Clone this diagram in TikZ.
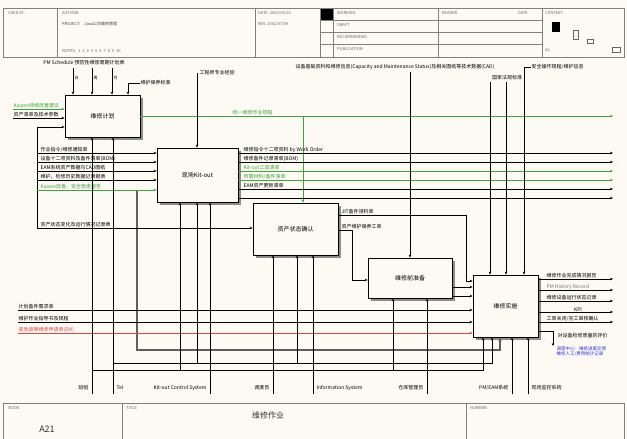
\documentclass[tikz,border=0pt]{standalone}
\usepackage{fontspec}
\newfontfamily\cjk{Noto Sans CJK SC}
\usetikzlibrary{arrows.meta}
\definecolor{paper}{RGB}{252,250,243}
\definecolor{idefgreen}{RGB}{60,165,60}
\definecolor{idefred}{RGB}{225,70,70}
\definecolor{idefblue}{RGB}{45,45,235}
\definecolor{fbgray}{RGB}{95,95,95}
\tikzset{
	func/.style={
		draw, thick, fill=paper, inner sep=0pt,
		font=\cjk\fontsize{6}{7}\selectfont
	},
	shade box/.style={fill=black!45, draw=none},
	lbl/.style={inner sep=0.4pt, font=\cjk\fontsize{5}{6}\selectfont},
	hd/.style={inner sep=0pt, anchor=north west, text=black!60,
		font=\cjk\fontsize{4}{5}\selectfont},
	arw/.style={-{Stealth[length=3pt,width=2.6pt]}, line width=0.5pt},
	frm/.style={draw=black!50, line width=0.8pt},
	grn/.style={draw=idefgreen},
	feedback/.style={-{Stealth[length=4pt,width=3.5pt]}, line width=1.5pt, draw=fbgray}
}
\begin{document}
\begin{tikzpicture}[x=1pt,y=-1pt]
\useasboundingbox (0,0) rectangle (627,439);
\fill[paper] (0,0) rectangle (627,439);
% title block
\draw[frm] (3,8) rectangle (624,57);
\draw[frm] (57,8) -- (57,57) (255,8) -- (255,57) (320,8) -- (320,57)
	(333,8) -- (333,57) (438,8) -- (438,57) (542,8) -- (542,57);
\draw[frm] (320,20) -- (542,20) (320,32) -- (542,32) (320,44) -- (542,44);
\fill (321,9) rectangle (333,20);
\node[hd] (usedat) at (8,11) {USED AT:};
\node[hd] (author) at (62,11) {AUTHOR:};
\node[hd, text=black!75] (project) at (62,22) {PROJECT:\quad Java公司维修管理};
\node[hd] (notes) at (62,49) {NOTES:\; 1\; 2\; 3\; 4\; 5\; 6\; 7\; 8\; 9\; 10};
\node[hd] (date) at (258,11) {DATE: 2002/05/20};
\node[hd] (rev) at (258,22) {REV: 2002/07/09};
\node[hd] (working) at (337,11) {WORKING};
\node[hd] (draft) at (337,23) {DRAFT};
\node[hd] (recom) at (337,35) {RECOMMENDED};
\node[hd] (publ) at (337,47) {PUBLICATION};
\node[hd] (reader) at (442,11) {READER};
\node[hd] (rdate) at (518,11) {DATE};
\node[hd] (context) at (545,11) {CONTEXT:};
\fill (552,22) rectangle (560,32);
\draw[black!60] (573,30) rectangle (578,39) (587,39) rectangle (593,43) (612,47) rectangle (620,52);
\node[hd] (ctxnode) at (545,48) {A2};
% footer
\draw[frm] (3,403) rectangle (624,439);
\draw[frm] (122,403) -- (122,439) (466,403) -- (466,439);
\node[hd] (nodelbl) at (8,406) {NODE:};
\node[font=\cjk\fontsize{9}{10}\selectfont, text=black!80] (nodeno) at (47,429) {A21};
\node[hd] (titlelbl) at (126,406) {TITLE:};
\node[font=\cjk\fontsize{8}{9}\selectfont, text=black!80] (title) at (268,415) {维修作业};
\node[hd] (numlbl) at (470,406) {NUMBER:};

% activity shadows, then activities
\fill[shade box] (68,98) rectangle (143,140);
\fill[shade box] (160,151) rectangle (241,205);
\fill[shade box] (256,206) rectangle (341,258);
\fill[shade box] (371,261) rectangle (455,301);
\fill[shade box] (476,278) rectangle (541,340);
\node[func, minimum width=75pt, minimum height=42pt] (A1) at (102.5,116) {维修计划};
\node[func, minimum width=81pt, minimum height=54pt] (A2) at (197.5,175) {现场Kit-out};
\node[func, minimum width=85pt, minimum height=52pt] (A3) at (295.5,229) {资产状态确认};
\node[func, minimum width=84pt, minimum height=40pt] (A4) at (410,278) {维修前准备};
\node[func, minimum width=65pt, minimum height=62pt] (A5) at (505.5,306) {维修实施};

% feedback
\coordinate (fb0) at (137,190);
\coordinate (fb1) at (137,350);
\coordinate (fb2) at (500,350);
\draw[feedback] (fb0) -- (fb1) -- (fb2) -- (fb2 |- A5.south);

% A1 controls
\node[lbl, anchor=south] (pmsched) at (84,66) {PM Schedule 预防性维修周期计划表};
\foreach \x/\lab in {73/日,92/周,112/月}{
	\coordinate (ctl) at (\x,68);
	\draw[arw] (ctl) -- (ctl |- A1.north);
	\node[lbl, anchor=west, font=\cjk\fontsize{4}{5}\selectfont] (per\x) at (\x+1,78) {\lab};
}
\node[lbl, anchor=west] (mstd) at (140,83) {维护保养标准};
\coordinate (ctl4) at (128,83);
\draw[arw] (mstd.west) -- (ctl4) -- (ctl4 |- A1.north);

% A1 inputs
\node[lbl, anchor=south west, text=idefgreen] (kaizen) at (13,109) {Kaizen持续改善建议};
\node[lbl, anchor=south west] (assetlist) at (13,118) {资产清单及技术参数};
\draw[arw, grn] (kaizen.south west) -- (kaizen.south west -| A1.west);
\draw[arw] (assetlist.south west) -- (assetlist.south west -| A1.west);
\coordinate (fbtop) at (37,127);
\coordinate (fbbot) at (37,228);
\draw[arw] (fbbot) -- (fbtop) -- (fbtop -| A1.west);

% A2 inputs
\node[lbl, anchor=south west] (wo) at (40,153) {作业指令/维修通知单};
\node[lbl, anchor=south west] (bom) at (40,162) {设备十二项资料及备件清单(BOM)};
\node[lbl, anchor=south west] (cad) at (40,171) {EAM系统资产数据与CAD图纸};
\node[lbl, anchor=south west] (hist) at (40,180) {维护、检修历史数据记录报表};
\node[lbl, anchor=south west, text=idefgreen] (hazard) at (40,190) {Kaizen改善、安全隐患报告};
\foreach \n in {wo,bom,cad,hist}
	\draw[arw] ([xshift=-3pt]\n.south west) -- (\n.south west -| A2.west);
\draw[arw, grn] ([xshift=-3pt]hazard.south west) -- (hazard.south west -| A2.west);

% A3 input
\node[lbl, anchor=south west] (astate) at (40,228) {资产状态变化及运行情况记录表};
\draw[arw] (fbbot) -- (fbbot -| A3.west);

% A1 output
\node[lbl, anchor=south west, text=idefgreen] (rule) at (232,116) {统一维修作业规程};
\coordinate (o0) at (613,116);
\draw[arw, grn] (A1.east |- o0) -- (o0);
\coordinate (g0) at (303,116);
\draw[arw, grn] (g0) -- (g0 |- A3.north);

% A2 control
\node[lbl, anchor=west] (exp) at (199,73) {工程师专业经验};
\coordinate (c2) at (197,73);
\draw[arw] (c2) -- (c2 |- A2.north);

% A2 outputs
\node[lbl, anchor=south west] (wo2) at (243,153) {维修指令十二项资料 by Work Order};
\node[lbl, anchor=south west] (rec) at (243,162) {维修备件记录清单(BOM)};
\node[lbl, anchor=south west, text=idefgreen] (kit) at (243,171) {Kit-out工具清单};
\node[lbl, anchor=south west, text=idefgreen] (mat) at (243,180) {所需材料/备件清单};
\node[lbl, anchor=south west] (eam) at (243,189) {EAM资产更新清单};
\foreach \y/\s in {153/black,162/black,171/idefgreen,180/idefgreen,189/black,198/black}{
	\coordinate (out) at (613,\y);
	\draw[arw, draw=\s] (A2.east |- out) -- (out);
}

% A3 outputs
\node[lbl, anchor=south west] (jit) at (341,215) {JIT备件领料单};
\node[lbl, anchor=south west] (pmwo) at (341,230) {资产维护保养工单};
\coordinate (j1) at (466,215);
\coordinate (j2) at (466,281);
\draw[arw] (A3.east |- j1) -- (j1) -- (j2) -- (j2 -| A5.west);
\coordinate (p1) at (352,230);
\coordinate (p2) at (352,280);
\draw[arw] (A3.east |- p1) -- (p1) -- (p2) -- (p2 -| A4.west);

% A4 control
\node[lbl] (basedata) at (395,67) {设备基础资料和维修信息(Capacity and Maintenance Status)及相关图纸等技术数据(CAD)};
\coordinate (c4a) at (410,72);
\draw[arw] (c4a) -- (c4a |- A4.north);

% A5 controls
\node[lbl] (law) at (507,78) {国家法规标准};
\foreach \x in {490,506}{
	\coordinate (lw) at (\x,82);
	\draw[arw] (lw) -- (lw |- A5.north);
}
\node[lbl, anchor=west] (safety) at (531,67) {安全操作规程/维护信息};
\coordinate (sf) at (524,67);
\draw[arw] (safety.west) -- (sf) -- (sf |- A5.north);

% A4 -> A5
\foreach \y in {287,296}{
	\coordinate (a45) at (460,\y);
	\draw[arw] (a45 -| A4.east) -- (a45 -| A5.west);
}

% A5 inputs from the left
\node[lbl, anchor=south west] (spare) at (18,310) {计划备件需求单};
\node[lbl, anchor=south west] (guide) at (18,322) {维护作业指导书及规程};
\node[lbl, anchor=south west, text=idefred] (emerg) at (18,333) {紧急故障维修申请单(EM)};
\draw[arw] (spare.south west) -- (spare.south west -| A5.west);
\draw[arw] (guide.south west) -- (guide.south west -| A5.west);
\draw[arw, draw=idefred] (emerg.south west) -- (emerg.south west -| A5.west);

% A5 outputs
\node[lbl, anchor=south west] (done) at (546,279) {维修作业完成情况报告};
\node[lbl, anchor=south west, text=black!55] (pmh) at (546,290) {PM History Record};
\node[lbl, anchor=south west] (eqrec) at (546,301) {维修设备运行状态记录};
\node[lbl, anchor=south] (kpi) at (578,312) {KPI};
\node[lbl, anchor=south west] (close) at (546,322) {工单关闭/完工审核确认};
\foreach \y in {279,290,301,312,322}{
	\coordinate (o5) at (613,\y);
	\draw[arw] (A5.east |- o5) -- (o5);
}
\coordinate (q1) at (553,331);
\coordinate (q2) at (553,346);
\draw[arw] (A5.east |- q1) -- (q1) -- (q2);
\node[lbl, anchor=west] (quality) at (557,336) {对设备检修质量的评价};
\node[lbl, anchor=north west, text=idefblue, align=left, font=\cjk\fontsize{4.5}{5.5}\selectfont] (dispatch) at (556,346) {调度中心：维修进度反馈\\维修人工/费用统计记录};

% mechanisms
\node[lbl, anchor=east] (crew) at (89,388) {班组};
\node[lbl, anchor=west] (tel) at (116,388) {Tel};
\node[lbl, anchor=east] (kitsys) at (207,388) {Kit-out Control System};
\node[lbl, anchor=east] (disp) at (270,388) {调度员};
\node[lbl, anchor=west] (infosys) at (316,388) {Information System};
\node[lbl, anchor=east] (store) at (424,388) {仓库管理员};
\node[lbl, anchor=east] (eamsys) at (509,388) {PM/EAM系统};
\node[lbl, anchor=west] (site) at (531,388) {现场监控系统};
\coordinate (mc1) at (92,394);
\draw[arw] (mc1) -- (mc1 |- A1.south);
\coordinate (mc2) at (113,394);
\draw[arw] (mc2) -- (mc2 |- A1.south);
\coordinate (bus1) at (92,370);
\coordinate (bus1e) at (483,370);
\draw[arw] (bus1) -- (bus1e) -- (bus1e |- A5.south);
\coordinate (bus2) at (113,363);
\coordinate (bus2e) at (492,363);
\draw[arw] (bus2) -- (bus2e) -- (bus2e |- A5.south);
\coordinate (br1) at (180,370);
\draw[arw] (br1) -- (br1 |- A2.south);
\coordinate (br2) at (393,370);
\draw[arw] (br2) -- (br2 |- A4.south);
\coordinate (br3) at (197,363);
\draw[arw] (br3) -- (br3 |- A2.south);
\coordinate (br4) at (297,363);
\draw[arw] (br4) -- (br4 |- A3.south);
\foreach \x/\b in {210/A2,273/A3,313/A3,427/A4,512/A5,528/A5}{
	\coordinate (md) at (\x,394);
	\draw[arw] (md) -- (md |- \b.south);
}
\end{tikzpicture}
\end{document}
